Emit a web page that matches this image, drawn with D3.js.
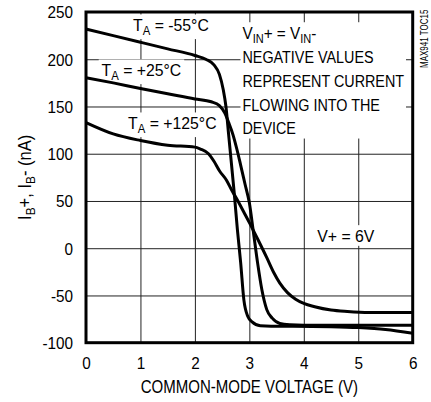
<!DOCTYPE html>
<html>
<head>
<meta charset="utf-8">
<script src="https://cdn.jsdelivr.net/npm/d3@7"></script>
<style>
  html, body { margin: 0; padding: 0; background: #fff; }
  svg { display: block; }
  text { font-family: "Liberation Sans", Arial, Helvetica, sans-serif; fill: #000; }
</style>
</head>
<body>
<svg id="chart" width="431" height="402"></svg>
<script>
// ---- data ----
const xTicks = [0, 1, 2, 3, 4, 5, 6];
const yTicks = [-100, -50, 0, 50, 100, 150, 200, 250];

const vM55 = [0, 0.5, 1, 1.5, 2, 2.2, 2.35, 2.45, 2.52, 2.57, 2.62, 2.67, 2.72, 2.78, 2.84, 2.9, 2.97, 3.05, 3.2, 3.4, 3.8, 4.5, 5, 5.5, 6];
const iM55 = [232, 225, 218, 211, 204, 200, 194, 184, 168, 150, 120, 90, 60, 20, -15, -55, -72, -78, -82, -82.5, -82.5, -83, -84, -86, -90];

const vP25 = [0, 0.5, 1, 1.5, 2, 2.3, 2.45, 2.55, 2.62, 2.7, 2.77, 2.84, 2.92, 3.0, 3.07, 3.15, 3.23, 3.32, 3.42, 3.56, 3.75, 4, 5, 6];
const iP25 = [180.5, 175, 169, 163.5, 158, 155, 151, 143, 133, 120, 105, 88, 68, 48, 19, -15, -44, -65, -74, -79.6, -81, -81.5, -81.5, -81.5];

const vP125 = [0, 0.5, 1, 1.5, 2, 2.1, 2.25, 2.35, 2.45, 2.58, 2.68, 2.77, 2.9, 3.01, 3.15, 3.32, 3.45, 3.56, 3.7, 3.85, 4.0, 4.2, 4.5, 4.8, 5.2, 6];
const iP125 = [133, 121, 114, 109, 107, 105, 100, 92, 82, 72, 61, 52, 38, 26, 10, -10, -26, -37, -47, -54, -58.5, -62, -65.5, -67, -68, -68];

const series = [
  { v: vM55, i: iM55 },
  { v: vP25, i: iP25 },
  { v: vP125, i: iP125 }
];

// ---- layout ----
const svg = d3.select("#chart");
const L = 86, R = 412.7, T = 12, B = 342.7;
const x = d3.scaleLinear().domain([0, 6]).range([L, R]);
const y = d3.scaleLinear().domain([-100, 250]).range([B, T]);
const FS = 17;

svg.append("rect").attr("width", 431).attr("height", 402).attr("fill", "#fff");

// grid
const grid = svg.append("g");
grid.append("g").attr("transform", `translate(0,${B})`)
  .call(d3.axisBottom(x).tickValues(xTicks).tickSize(-(B - T)).tickFormat(""))
  .call(g => g.select(".domain").remove())
  .call(g => g.selectAll("line").attr("stroke", "#222").attr("stroke-width", 1));
grid.append("g").attr("transform", `translate(${L},0)`)
  .call(d3.axisLeft(y).tickValues(yTicks).tickSize(-(R - L)).tickFormat(""))
  .call(g => g.select(".domain").remove())
  .call(g => g.selectAll("line").attr("stroke", "#222").attr("stroke-width", 1));

// tick labels
const fmt = d => String(d);
svg.append("g").attr("transform", `translate(0,${B + 26})`)
  .call(d3.axisBottom(x).tickValues(xTicks).tickSize(0).tickPadding(0).tickFormat(fmt))
  .call(g => g.select(".domain").remove())
  .call(g => g.selectAll("text").attr("font-size", FS).attr("y", null).attr("dy", null)
    .attr("transform", "scale(0.9,1)"));
svg.append("g").attr("transform", `translate(${L - 13},0)`)
  .call(d3.axisLeft(y).tickValues(yTicks).tickSize(0).tickPadding(0).tickFormat(fmt))
  .call(g => g.select(".domain").remove())
  .call(g => g.selectAll("text").attr("font-size", FS).attr("x", null).attr("dy", "0.35em")
    .attr("transform", "scale(0.9,1)"));
svg.selectAll(".tick text").attr("font-family", null);

// annotations with white backgrounds
const annG = svg.append("g");
function label(parent, yp, parts, size) {
  const t = parent.append("text").attr("x", 0).attr("y", yp).attr("font-size", size || FS);
  parts.forEach(p => {
    if (p.sub) {
      t.append("tspan").text(p.s).attr("font-size", (size || FS) * 0.72).attr("dy", 4);
    } else {
      t.append("tspan").text(p.s).attr("dy", p.after ? -4 : 0);
    }
  });
  return t;
}
function group(xp, sx) {
  return annG.append("g").attr("transform", `translate(${xp},0) scale(${sx},1)`);
}
function bg(g, t, pad) {
  const b = t.node().getBBox();
  g.insert("rect", "text")
    .attr("x", b.x - pad).attr("y", b.y - 1).attr("width", b.width + 2 * pad).attr("height", b.height + 2)
    .attr("fill", "#fff");
}

[
  { x: 133, y: 31, s: " = -55°C" },
  { x: 101.5, y: 76, s: " = +25°C" },
  { x: 128, y: 129, s: " = +125°C" }
].forEach(d => {
  const g = group(d.x, 0.93);
  const t = label(g, d.y, [{ s: "T" }, { s: "A", sub: true }, { s: d.s, after: true }]);
  bg(g, t, 3);
});

{
  const sxBox = 0.845, x0 = 242.5;
  const gBox = group(x0, sxBox);
  const rect = gBox.append("rect").attr("fill", "#fff");
  const gV = annG.append("g").attr("transform", `translate(${x0},0) scale(0.9,1)`);
  const l1 = label(gV, 39, [{ s: "V" }, { s: "IN", sub: true }, { s: "+ = V", after: true }, { s: "IN", sub: true }, { s: "-", after: true }]);
  const ls = [
    label(gBox, 63.3, [{ s: "NEGATIVE VALUES" }]),
    label(gBox, 87.3, [{ s: "REPRESENT CURRENT" }]),
    label(gBox, 111, [{ s: "FLOWING INTO THE" }]),
    label(gBox, 134.3, [{ s: "DEVICE" }])
  ];
  const b1 = l1.node().getBBox();
  const bl = ls[ls.length - 1].node().getBBox();
  const top = b1.y - 1, bottom = bl.y + bl.height + 1;
  rect.attr("x", -2 / sxBox).attr("y", top).attr("width", (406 - x0 + 2) / sxBox).attr("height", bottom - top);
}
{
  const g = group(317.3, 0.93);
  const t = label(g, 241.7, [{ s: "V+ = 6V" }]);
  bg(g, t, 2);
}

// curves
const line = d3.line().x(d => x(d[0])).y(d => y(d[1])).curve(d3.curveMonotoneX);
svg.append("g").selectAll("path").data(series).join("path")
  .attr("d", s => line(s.v.map((v, k) => [v, s.i[k]])))
  .attr("fill", "none").attr("stroke", "#000").attr("stroke-width", 3)
  .attr("stroke-linejoin", "round");

// frame
svg.append("rect").attr("x", L).attr("y", T).attr("width", R - L).attr("height", B - T)
  .attr("fill", "none").attr("stroke", "#000").attr("stroke-width", 3);

// axis titles
svg.append("text").attr("transform", `translate(${(L + R) / 2},393) scale(0.835,1)`)
  .attr("text-anchor", "middle").attr("font-size", 18).text("COMMON-MODE VOLTAGE (V)");
{
  const yt = svg.append("text").attr("transform", `translate(31,${(T + B) / 2}) rotate(-90) scale(0.87,1)`)
    .attr("text-anchor", "middle").attr("font-size", 19);
  yt.append("tspan").text("I");
  yt.append("tspan").text("B").attr("font-size", 19 * 0.72).attr("dy", 4);
  yt.append("tspan").text("+, I").attr("dy", -4);
  yt.append("tspan").text("B").attr("font-size", 19 * 0.72).attr("dy", 4);
  yt.append("tspan").text("- (nA)").attr("dy", -4);
}
svg.append("text").attr("transform", "translate(428,68) rotate(-90) scale(0.8,1)")
  .attr("font-size", 10).text("MAX941 TOC15");
</script>
</body>
</html>
